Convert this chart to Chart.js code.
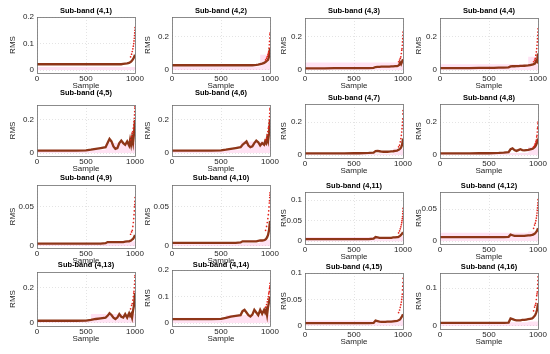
<!DOCTYPE html>
<html>
<head>
<meta charset="utf-8">
<script src="https://cdn.jsdelivr.net/npm/chart.js@4.4.1/dist/chart.umd.min.js"></script>
<style>
  html, body { margin: 0; padding: 0; background: #fff; }
  #wrap { position: relative; width: 550px; height: 354px; overflow: hidden; }
  #wrap canvas { position: absolute; left: 0; top: 0; }
</style>
</head>
<body>
<div id="wrap"></div>
<script>
// x positions of the RMS curve and of the scattered tail points
const sampleX = [0,100,200,300,400,500,550,600,650,700,720,740,760,780,800,820,840,860,880,900,920,940,950,960,970,980,990,1000];
const tailX = [955,965,972,978,983,987,990,993,995,997,999,1000];

const titles = ['Sub-band (4,1)','Sub-band (4,2)','Sub-band (4,3)','Sub-band (4,4)',
  'Sub-band (4,5)','Sub-band (4,6)','Sub-band (4,7)','Sub-band (4,8)',
  'Sub-band (4,9)','Sub-band (4,10)','Sub-band (4,11)','Sub-band (4,12)',
  'Sub-band (4,13)','Sub-band (4,14)','Sub-band (4,15)','Sub-band (4,16)'];

// RMS curves
const rms1 = [.022,.022,.022,.022,.022,.022,.022,.022,.022,.022,.022,.022,.022,.022,.022,.022,.022,.022,.023,.024,.025,.027,.029,.032,.036,.041,.048,.058];
const rms2 = [.028,.028,.028,.028,.028,.028,.028,.028,.028,.028,.028,.028,.028,.028,.028,.028,.029,.030,.032,.035,.038,.042,.046,.050,.055,.060,.080,.130];
const rms3 = [.010,.010,.010,.011,.011,.011,.011,.012,.012,.013,.018,.019,.019,.020,.020,.020,.021,.021,.022,.022,.023,.024,.026,.030,.045,.035,.050,.065];
const rms4 = [.012,.012,.012,.012,.013,.013,.013,.014,.015,.016,.022,.023,.023,.024,.024,.025,.025,.026,.027,.028,.030,.032,.034,.036,.040,.055,.050,.100];
const rms5 = [.015,.015,.015,.015,.015,.016,.020,.025,.030,.035,.060,.085,.070,.040,.025,.030,.060,.075,.060,.050,.070,.045,.080,.050,.090,.060,.120,.200];
const rms6 = [.015,.015,.015,.015,.015,.016,.020,.025,.030,.035,.050,.060,.070,.045,.035,.040,.060,.075,.065,.045,.060,.050,.070,.060,.090,.070,.120,.200];
const rms7 = [.010,.010,.010,.010,.010,.011,.011,.012,.013,.015,.024,.025,.023,.021,.020,.020,.020,.021,.022,.023,.025,.027,.030,.033,.038,.045,.060,.100];
const rms8 = [.010,.010,.010,.010,.011,.011,.012,.013,.015,.018,.035,.040,.030,.025,.030,.035,.030,.028,.030,.032,.035,.038,.040,.045,.050,.060,.075,.100];
const rms9 = [.003,.003,.003,.003,.003,.003,.003,.003,.003,.0035,.005,.005,.005,.005,.005,.005,.005,.005,.005,.0055,.006,.006,.0065,.007,.008,.009,.011,.014];
const rms10 = [.004,.004,.004,.004,.004,.004,.004,.004,.004,.0045,.006,.006,.006,.006,.006,.006,.006,.006,.0065,.007,.007,.0075,.008,.009,.011,.014,.020,.032];
const rms11 = [.005,.005,.005,.005,.005,.005,.005,.005,.005,.006,.010,.009,.008,.008,.008,.008,.008,.008,.008,.009,.009,.010,.010,.011,.013,.015,.018,.022];
const rms12 = [.006,.006,.006,.006,.006,.006,.006,.006,.006,.0065,.010,.009,.008,.008,.008,.008,.008,.008,.0085,.009,.009,.0095,.010,.011,.012,.014,.016,.020];
const rms13 = [.012,.012,.012,.012,.012,.013,.017,.022,.026,.030,.040,.055,.045,.030,.022,.030,.050,.035,.030,.050,.030,.055,.040,.050,.030,.070,.100,.170];
const rms14 = [.015,.015,.015,.015,.015,.016,.020,.024,.027,.030,.045,.050,.040,.030,.025,.032,.050,.040,.030,.050,.035,.050,.040,.050,.030,.060,.080,.100];
const rms15 = [.005,.005,.005,.005,.005,.005,.005,.005,.005,.0055,.010,.009,.008,.0075,.0075,.0075,.008,.008,.008,.0085,.009,.0095,.010,.011,.012,.015,.018,.022];
const rms16 = [.008,.008,.008,.008,.008,.008,.008,.008,.008,.009,.020,.018,.016,.015,.015,.015,.016,.016,.017,.018,.019,.020,.022,.025,.028,.034,.042,.060];
const rmsAll = [rms1,rms2,rms3,rms4,rms5,rms6,rms7,rms8,rms9,rms10,rms11,rms12,rms13,rms14,rms15,rms16];

// scattered red points at the tail
const dots1 = [.050,.060,.070,.080,.090,.100,.110,.120,.130,.140,.150,.160];
const dots2 = [.060,.070,.080,.090,.100,.110,.130,.150,.170,.190,.210,.220];
const dots3 = [.050,.060,.070,.080,.100,.120,.130,.150,.170,.190,.210,.230];
const dots4 = [.050,.060,.070,.090,.110,.130,.150,.170,.190,.210,.230,.250];
const dots5 = [.080,.100,.120,.130,.150,.170,.190,.210,.230,.250,.270,.280];
const dots6 = [.080,.090,.110,.130,.150,.160,.180,.200,.220,.240,.260,.270];
const dots7 = [.050,.060,.080,.100,.120,.140,.160,.180,.200,.220,.250,.270];
const dots8 = [.050,.060,.070,.080,.090,.110,.120,.140,.160,.170,.190,.200];
const dots9 = [.015,.018,.020,.025,.030,.035,.040,.045,.050,.053,.057,.062];
const dots10 = [.020,.025,.030,.035,.040,.045,.050,.055,.058,.062,.065,.068];
const dots11 = [.020,.025,.030,.035,.040,.045,.050,.055,.060,.067,.073,.080];
const dots12 = [.020,.025,.028,.032,.036,.040,.044,.048,.052,.056,.060,.065];
const dots13 = [.080,.100,.110,.130,.150,.170,.180,.200,.220,.240,.260,.270];
const dots14 = [.060,.070,.080,.090,.100,.110,.115,.120,.130,.135,.140,.150];
const dots15 = [.025,.030,.035,.040,.045,.050,.055,.060,.068,.075,.082,.090];
const dots16 = [.040,.050,.055,.060,.070,.080,.085,.090,.100,.110,.120,.130];
const dotsAll = [dots1,dots2,dots3,dots4,dots5,dots6,dots7,dots8,dots9,dots10,dots11,dots12,dots13,dots14,dots15,dots16];

// pink shaded band: level, tail level and where the tail starts
const bandLevel = [.012,.020,.045,.035,.020,.020,.010,.012,.004,.004,.010,.013,.010,.020,.010,.010];
const bandTail  = [.012,.090,.045,.080,.060,.070,.040,.050,.006,.008,.012,.015,.050,.030,.012,.012];
const bandSplit = [900,900,900,900,700,700,900,900,900,900,900,900,550,550,900,900];

// y axis ranges and tick marks
const yMax = [0.2,0.315,0.315,0.315, 0.29,0.29,0.31,0.31, 0.078,0.078,0.12,0.077, 0.29,0.2,0.1,0.14];
const yMin = [-0.011,-0.018,-0.018,-0.018, -0.018,-0.018,-0.018,-0.018, -0.0026,-0.0026,-0.007,-0.0047, -0.018,-0.011,-0.006,-0.008];
const yTicks = [[0,0.1,0.2],[0,0.2],[0,0.2],[0,0.2],[0,0.2],[0,0.2],[0,0.2],[0,0.2],
  [0,0.05],[0,0.05],[0,0.05,0.1],[0,0.05],[0,0.2],[0,0.1,0.2],[0,0.05,0.1],[0,0.1]];

// panel geometry (plot area and title centre in page pixels)
const colL = [37,172,305,440];
const colR = [135,270,403,538];
const axisW = [29,29,26,26];
const rowsLeft = [[17,73],[105,156],[185,248],[272,326]];
const rowsRight = [[18,73],[104,158],[192,244],[273,329]];
const titleLeft = [11,93,178,265];
const titleRight = [11,98,186,267];
const axisH = 18;

const frame = {
  id: 'frame',
  afterDatasetsDraw(chart) {
    const a = chart.chartArea, c = chart.ctx;
    c.save();
    c.strokeStyle = '#6f6f6f';
    c.lineWidth = 0.8;
    c.strokeRect(a.left + 0.5, a.top + 0.5, a.right - a.left, a.bottom - a.top);
    c.restore();
  },
  afterDraw(chart) {
    const a = chart.chartArea, c = chart.ctx, t = chart.options.plugins.panelTitle;
    c.save();
    c.fillStyle = '#000';
    c.font = 'bold 7.5px "Liberation Sans", Arial, sans-serif';
    c.textAlign = 'center';
    c.textBaseline = 'middle';
    c.fillText(t.text, (a.left + a.right) / 2, t.y);
    c.restore();
  }
};

const wrap = document.getElementById('wrap');
const tickFont = { family: '"Liberation Sans", Arial, sans-serif', size: 8 };

for (let i = 0; i < 16; i++) {
  const col = i % 4, row = Math.floor(i / 4);
  const rows = col < 2 ? rowsLeft : rowsRight;
  let top = rows[row][0];
  if (i === 13) top = 270;
  const bottom = rows[row][1];
  const ty = col < 2 ? titleLeft[row] : titleRight[row];

  const cv = document.createElement('canvas');
  cv.width = 550; cv.height = 354;
  wrap.appendChild(cv);

  const lineData = sampleX.map((x, k) => ({ x: x, y: rmsAll[i][k] }));
  const dotData = tailX.map((x, k) => ({ x: x, y: dotsAll[i][k] }));
  const bandData = [
    { x: 0, y: bandLevel[i] }, { x: bandSplit[i], y: bandLevel[i] },
    { x: bandSplit[i], y: bandTail[i] }, { x: 1000, y: bandTail[i] }
  ];

  new Chart(cv, {
    type: 'scatter',
    data: {
      datasets: [
        { data: dotData, pointRadius: 0.85, pointBackgroundColor: '#e3231b', pointBorderWidth: 0, order: 0 },
        { data: lineData, showLine: true, borderColor: '#8e3618', borderWidth: 2.3, pointRadius: 0, order: 1 },
        { data: bandData, showLine: true, borderWidth: 0, borderColor: 'rgba(0,0,0,0)', pointRadius: 0,
          fill: 'origin', backgroundColor: 'rgba(255,160,215,0.3)', order: 2 }
      ]
    },
    options: {
      responsive: false,
      devicePixelRatio: 1,
      animation: false,
      events: [],
      layout: {
        padding: { left: colL[col] - axisW[col], top: top, right: 550 - colR[col], bottom: 354 - bottom - axisH }
      },
      scales: {
        x: {
          type: 'linear', min: 0, max: 1000,
          afterBuildTicks: s => { s.ticks = [0, 500, 1000].map(v => ({ value: v })); },
          afterFit: s => { s.height = axisH; },
          grid: { color: '#d8d8d8', lineWidth: 0.7, drawTicks: false },
          border: { display: false, dash: [1, 2] },
          ticks: { font: tickFont, color: '#262626', padding: 1, maxRotation: 0, callback: v => String(v) },
          title: { display: true, text: 'Sample', font: tickFont, color: '#262626', padding: 0 }
        },
        y: {
          min: yMin[i], max: yMax[i],
          afterBuildTicks: s => { s.ticks = yTicks[i].map(v => ({ value: v })); },
          afterFit: s => { s.width = axisW[col]; },
          grid: { color: '#d8d8d8', lineWidth: 0.7, drawTicks: false },
          border: { display: false, dash: [1, 2] },
          ticks: { font: tickFont, color: '#262626', padding: 3, callback: v => String(+v.toFixed(3)) },
          title: { display: true, text: 'RMS', font: tickFont, color: '#262626', padding: 0 }
        }
      },
      plugins: {
        legend: { display: false },
        tooltip: { enabled: false },
        panelTitle: { text: titles[i], y: ty }
      }
    },
    plugins: [frame]
  });
}
</script>
</body>
</html>
